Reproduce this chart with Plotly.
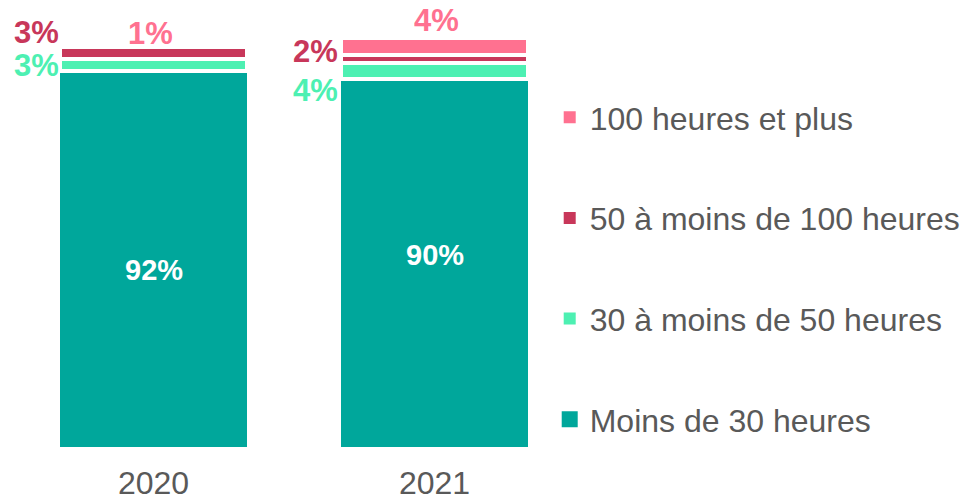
import plotly.graph_objects as go

# Volume horaire : répartition par tranche, 2020 vs 2021
years = ["2020", "2021"]
series_names = [
    "Moins de 30 heures",
    "30 à moins de 50 heures",
    "50 à moins de 100 heures",
    "100 heures et plus",
]
moins_30 = [92, 90]
de_30_a_50 = [3, 4]
de_50_a_100 = [3, 2]
plus_100 = [1, 4]

values = [moins_30, de_30_a_50, de_50_a_100, plus_100]
colors = ["#00A79B", "#4DF0B2", "#C8375A", "#FF7190"]
line_widths = [0, 4, 4, 4]
legend_sizes = [16, 12, 12, 12]

FONT = "Liberation Sans, Arial, sans-serif"
GREY = "#595959"
BARGAP = 0.335
HALF = (1 - BARGAP) / 2

fig = go.Figure()

for name, vals, col, lw in zip(series_names, values, colors, line_widths):
    fig.add_trace(go.Bar(
        x=years, y=vals, name=name,
        marker=dict(color=col, line=dict(color="white", width=lw)),
        showlegend=False, hoverinfo="skip",
    ))

# legend swatches, highest band listed first
order = list(range(len(series_names)))[::-1]
for rank, s in enumerate(order):
    fig.add_trace(go.Scatter(
        x=[None], y=[None], name=series_names[s], mode="markers",
        marker=dict(symbol="square", color=colors[s], size=legend_sizes[s]),
        legendgroup=f"g{rank}", hoverinfo="skip",
    ))

# label placement per (series, year): (where, x shift, y shift, size)
placement = {
    (0, 0): ("center", 0, -11, 29), (0, 1): ("center", 0, 8, 29),
    (1, 0): ("left", 1, 0, 31), (1, 1): ("left", -1, -19, 31),
    (2, 0): ("left", 1, 21, 31), (2, 1): ("left", -1, 8, 31),
    (3, 0): ("top", -3, 10, 31), (3, 1): ("top", 2, 18, 31),
}

annotations = []
for s, vals in enumerate(values):
    for i, v in enumerate(vals):
        base = sum(values[k][i] for k in range(s))
        where, dx, dy, size = placement[(s, i)]
        col = "white" if s == 0 else colors[s]
        if where == "center":
            x, y, xa = i, base + v / 2, "center"
        elif where == "left":
            x, y, xa = i - HALF, base + v / 2, "right"
        else:
            x, y, xa = i, base + v, "center"
        annotations.append(dict(
            x=x, y=y, xref="x", yref="y", text=f"<b>{v}%</b>",
            showarrow=False, xanchor=xa, yanchor="middle",
            xshift=dx, yshift=dy, height=28, valign="middle",
            font=dict(family=FONT, size=size, color=col),
        ))

fig.update_layout(
    width=965, height=501,
    margin=dict(l=13, r=390, t=18, b=54, autoexpand=False),
    paper_bgcolor="white", plot_bgcolor="white",
    barmode="stack", bargap=BARGAP,
    font=dict(family=FONT, color=GREY),
    xaxis=dict(
        type="category", range=[-0.5, 1.5], showgrid=False, showline=False,
        zeroline=False, ticks="", tickfont=dict(size=32, color=GREY),
        ticklabelstandoff=14, automargin=False,
    ),
    yaxis=dict(
        range=[0, 105], visible=False, showgrid=False, zeroline=False,
        automargin=False,
    ),
    legend=dict(
        x=0.955, xanchor="left", y=0.832, yanchor="top",
        traceorder="grouped", tracegroupgap=56,
        font=dict(family=FONT, size=32, color=GREY),
        itemwidth=30, bgcolor="rgba(0,0,0,0)",
    ),
    annotations=annotations,
)

fig.write_html("out.html")
